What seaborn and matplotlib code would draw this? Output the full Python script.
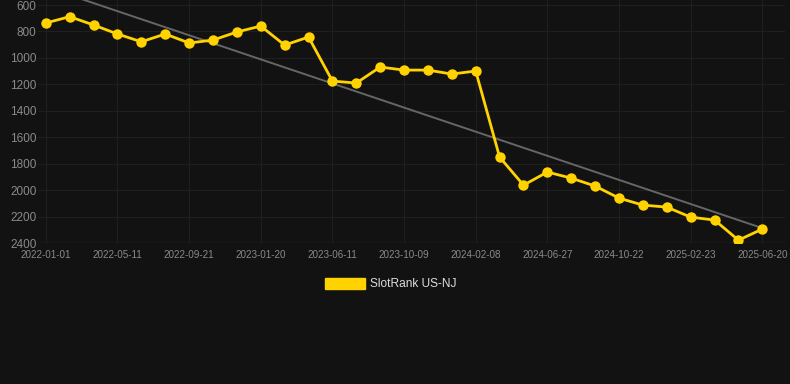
import matplotlib
matplotlib.use("Agg")
import matplotlib.pyplot as plt
from matplotlib.patches import Patch
import seaborn as sns
import pandas as pd

# 数据
dates = ["2022-01-01", "2022-02-14", "2022-03-28", "2022-05-11", "2022-06-24", "2022-08-07",
         "2022-09-21", "2022-11-01", "2022-12-10", "2023-01-20", "2023-03-07", "2023-04-25",
         "2023-06-11", "2023-07-27", "2023-08-23", "2023-10-09", "2023-11-20", "2023-12-29",
         "2024-02-08", "2024-03-24", "2024-05-12", "2024-06-27", "2024-08-09", "2024-09-16",
         "2024-10-22", "2024-12-02", "2025-01-13", "2025-02-23", "2025-04-06", "2025-05-14",
         "2025-06-20"]
rank = [736, 688, 751, 819, 878, 819, 887, 865, 804, 759, 903, 842,
        1175, 1190, 1069, 1092, 1092, 1122, 1099, 1750, 1962, 1863, 1909, 1969,
        2060, 2113, 2128, 2204, 2226, 2378, 2294]
trend_ends = [464, 2287]
series_name = "SlotRank US-NJ"

df = pd.DataFrame({"idx": range(len(dates)), "date": dates, "rank": rank})

sns.set_theme(style="dark")
plt.rcParams["font.family"] = ["Liberation Sans", "DejaVu Sans"]

bg = "#121212"
gold = "#FFD200"
fig = plt.figure(figsize=(7.9, 3.84), dpi=100, facecolor=bg)
ax = fig.add_axes([0.048, 0.367, 0.946, 0.633])
ax.set_facecolor(bg)

# 趋势线
ax.plot([0, len(dates) - 1], trend_ends, color="#666666", lw=1.4, zorder=2)

sns.lineplot(data=df, x="idx", y="rank", ax=ax, color=gold, lw=2.0,
             marker="o", markersize=7.5, markeredgewidth=0, zorder=3)

ax.set_ylim(2400, 562)
ax.set_xlim(-0.33, 30.96)
ax.set_yticks(range(600, 2401, 200))
ax.set_xticks(df["idx"][::3])
ax.set_xticklabels(df["date"][::3])
ax.tick_params(axis="y", colors="#8a8a8a", labelsize=8.5, length=0, pad=1)
ax.tick_params(axis="x", colors="#8a8a8a", labelsize=7.1, length=0, pad=5)
ax.grid(True, color="#1f1f1f", lw=0.8)
ax.set_xlabel("")
ax.set_ylabel("")
for s in ax.spines.values():
    s.set_visible(False)
ax.axhline(2400, color="#2e2e2e", lw=1)

handles = [Patch(facecolor=gold, edgecolor=gold, label=series_name)]
fig.legend(handles=handles, loc="center", bbox_to_anchor=(0.495, 0.26),
           frameon=False, fontsize=8.6, labelcolor="#dddddd",
           handlelength=3.3, handleheight=1.0, handletextpad=0.5)

fig.savefig("out.png", dpi=100, facecolor=bg)
